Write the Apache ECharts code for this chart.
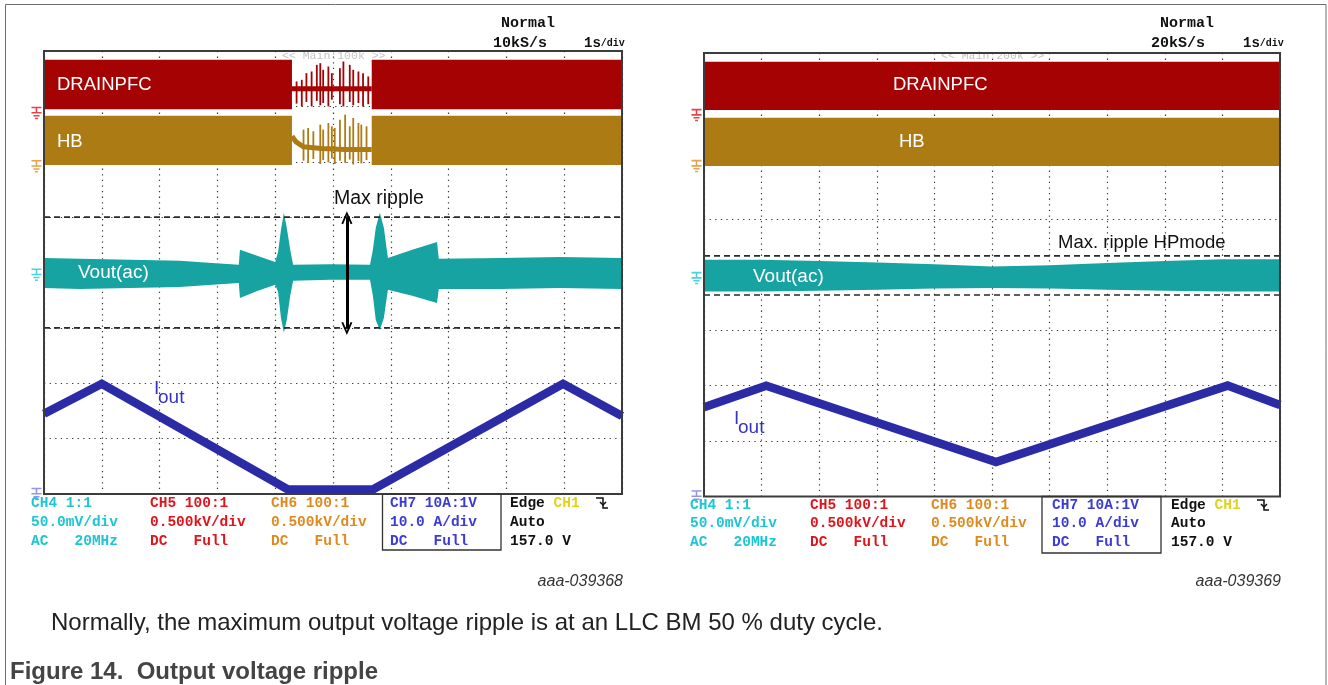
<!DOCTYPE html>
<html>
<head>
<meta charset="utf-8">
<script src="https://cdn.jsdelivr.net/npm/echarts@6/dist/echarts.min.js"></script>
<style>
  html, body { margin: 0; padding: 0; background: #fff; }
  #c { width: 1328px; height: 685px; }
</style>
</head>
<body>
<div id="c"></div>
<script>
// ---------------------------------------------------------------
// Scope captures: time axis 1 s/div (10 div), vertical axis in
// screen divisions (-4 .. +4, 0 = centre line).
// ---------------------------------------------------------------

// ---- Capture A (10 kS/s) : burst mode in the middle of the sweep ----
const drainActiveA = [[0, 4.29], [5.67, 10]];      // PFC switching intervals (s)
const drainEnvA = [2.95, 3.84];                     // switching envelope low / high (div)
const hbActiveA = [[0, 4.29], [5.67, 10]];
const hbEnvA = [1.94, 2.83];

const drainBurstT_A = [4.37, 4.46, 4.54, 4.63, 4.72, 4.78, 4.83, 4.92, 4.98, 5.12, 5.18, 5.29, 5.35, 5.44, 5.52, 5.61];
const drainBurstHi_A = [3.45, 3.48, 3.60, 3.63, 3.75, 3.78, 3.66, 3.72, 3.60, 3.69, 3.81, 3.75, 3.66, 3.63, 3.60, 3.54];
const drainBurstLo_A = [3.05, 3.00, 3.08, 3.00, 3.10, 3.02, 3.06, 3.00, 3.12, 3.04, 3.00, 3.08, 3.02, 3.06, 3.00, 3.04];
const drainIdleT_A = [4.29, 5.67];
const drainIdleV_A = [3.32, 3.32];

const hbBurstT_A = [4.49, 4.57, 4.66, 4.78, 4.83, 4.92, 4.98, 5.03, 5.12, 5.21, 5.29, 5.35, 5.44, 5.49, 5.58];
const hbBurstHi_A = [2.58, 2.61, 2.55, 2.67, 2.58, 2.70, 2.64, 2.61, 2.76, 2.85, 2.64, 2.79, 2.70, 2.67, 2.64];
const hbBurstLo_A = [2.02, 1.98, 2.05, 1.96, 2.03, 1.99, 2.06, 1.96, 2.02, 1.98, 2.04, 1.95, 2.01, 1.97, 2.03];
const hbIdleT_A = [4.29, 4.36, 4.49, 4.80, 5.20, 5.67];
const hbIdleV_A = [2.46, 2.36, 2.27, 2.24, 2.22, 2.22];

const voutT_A  = [0, 0.62, 1.49, 2.35, 2.91, 3.37, 3.39, 3.70, 4.00, 4.05, 4.10, 4.15, 4.20, 4.26, 4.31, 4.95, 5.64, 5.69, 5.74, 5.81, 5.88, 5.95, 6.37, 6.80, 6.83, 7.89, 8.93, 10];
const voutHi_A = [0.26, 0.25, 0.23, 0.21, 0.17, 0.14, 0.41, 0.30, 0.19, 0.37, 0.77, 1.08, 0.81, 0.41, 0.14, 0.15, 0.14, 0.41, 0.81, 1.08, 0.81, 0.26, 0.41, 0.55, 0.25, 0.26, 0.28, 0.26];
const voutLo_A = [-0.28, -0.30, -0.28, -0.26, -0.22, -0.19, -0.46, -0.33, -0.22, -0.35, -0.82, -1.09, -0.86, -0.42, -0.15, -0.13, -0.13, -0.42, -0.86, -1.04, -0.82, -0.31, -0.42, -0.55, -0.30, -0.30, -0.28, -0.30];

const ioutT_A = [0, 1.00, 4.22, 5.69, 8.98, 10];
const ioutA   = [-2.55, -2.01, -3.92, -3.92, -2.01, -2.59];

const rippleCursorsA = [1.0, -1.0];
const rippleArrowA = [5.24, 0.99, -1.01];            // time, top, bottom

// ---- Capture B (20 kS/s) : continuous HP mode ----
const drainActiveB = [[0, 10]];
const drainEnvB = [2.97, 3.84];
const hbActiveB = [[0, 10]];
const hbEnvB = [1.96, 2.83];

const voutT_B  = [0, 1, 2, 3, 4, 5, 6, 7, 8, 9, 10];
const voutHi_B = [0.27, 0.27, 0.25, 0.22, 0.19, 0.15, 0.17, 0.21, 0.25, 0.28, 0.28];
const voutLo_B = [-0.30, -0.30, -0.29, -0.27, -0.25, -0.24, -0.25, -0.27, -0.29, -0.30, -0.30];

const ioutT_B = [0, 1.08, 5.07, 9.09, 10];
const ioutB   = [-2.39, -2.00, -3.38, -2.00, -2.35];

const rippleCursorsB = [0.34, -0.365];

// Channel ground reference levels (div): CH5, CH6, CH4, CH7
const groundA = [2.88, 1.92, -0.04, -4.0];
const groundB = [2.88, 1.96, -0.06, -4.0];

// Channel setup readout
const chHeads = ['CH4 1:1', 'CH5 100:1', 'CH6 100:1', 'CH7 10A:1V'];
const chScales = ['50.0mV/div', '0.500kV/div', '0.500kV/div', '10.0 A/div'];
const chCoupling = ['AC   20MHz', 'DC   Full', 'DC   Full', 'DC   Full'];
const trigLines = ['Auto', '157.0 V'];

// ---------------------------------------------------------------
const C_DRAIN = '#a50203', C_HB = '#ad7b13', C_VOUT = '#17a3a1', C_IOUT = '#2b2ba6';
const C_CH = ['#1cc6d4', '#e0141c', '#df8a1f', '#3b3bd6'];
const MONO = '"Liberation Mono", "DejaVu Sans Mono", monospace';
const SANS = '"Liberation Sans", Arial, sans-serif';

const G = [
  { left: 44, top: 51, width: 578, height: 443 },
  { left: 704, top: 53, width: 576, height: 443.5 }
];

function axisX(gi) {
  return { gridIndex: gi, type: 'value', min: 0, max: 10, interval: 1,
    axisLine: { show: false }, axisTick: { show: false }, axisLabel: { show: false },
    splitLine: { show: true, lineStyle: { color: '#3a3a3a', width: 1.2, type: [1.3, 4.3] } } };
}
function axisY(gi) {
  return { gridIndex: gi, type: 'value', min: -4, max: 4, interval: 1,
    axisLine: { show: false }, axisTick: { show: false }, axisLabel: { show: false },
    splitLine: { show: true, lineStyle: { color: '#3a3a3a', width: 1.2, type: [1.3, 4.3] } } };
}

// filled switching envelope over active intervals
function activeBands(pairs, env, color, gi) {
  return {
    type: 'custom', xAxisIndex: gi, yAxisIndex: gi, clip: true, z: 3,
    data: pairs.map(p => [p[0], p[1], env[0], env[1]]),
    renderItem: (params, api) => {
      const a = api.coord([api.value(0), api.value(3)]);
      const b = api.coord([api.value(1), api.value(2)]);
      return { type: 'rect', shape: { x: a[0], y: a[1], width: b[0] - a[0], height: b[1] - a[1] },
        style: { fill: color } };
    }
  };
}

// envelope polygon (upper / lower trace limits)
function envelope(ts, hi, lo, color, gi) {
  return {
    type: 'custom', xAxisIndex: gi, yAxisIndex: gi, clip: true, z: 3,
    data: ts.map((t, i) => [t, hi[i], lo[i]]),
    renderItem: (params, api) => {
      if (params.dataIndex !== 0) return null;
      const pts = [];
      for (let i = 0; i < ts.length; i++) pts.push(api.coord([ts[i], hi[i]]));
      for (let i = ts.length - 1; i >= 0; i--) pts.push(api.coord([ts[i], lo[i]]));
      return { type: 'polygon', shape: { points: pts }, style: { fill: color } };
    }
  };
}

// single switching events during burst pauses
function spikes(ts, hi, lo, color, gi) {
  return {
    type: 'custom', xAxisIndex: gi, yAxisIndex: gi, clip: true, z: 3,
    data: ts.map((t, i) => [t, hi[i], lo[i]]),
    renderItem: (params, api) => {
      const a = api.coord([api.value(0), api.value(1)]);
      const b = api.coord([api.value(0), api.value(2)]);
      return { type: 'line', shape: { x1: a[0], y1: a[1], x2: b[0], y2: b[1] },
        style: { stroke: color, lineWidth: 1.8 } };
    }
  };
}

function trace(ts, vs, color, width, gi, z) {
  return { type: 'line', xAxisIndex: gi, yAxisIndex: gi, showSymbol: false, symbol: 'none',
    z: z || 3, data: ts.map((t, i) => [t, vs[i]]),
    lineStyle: { color: color, width: width, join: 'miter' } };
}

function cursors(levels, gi) {
  return levels.map(v => ({
    type: 'line', xAxisIndex: gi, yAxisIndex: gi, symbol: 'none', z: 4,
    data: [[0, v], [10, v]],
    lineStyle: { color: '#2a2a2a', width: 1.6, type: [6, 4] }
  }));
}

const GND_PATH = 'path://M0,0h10v1.6h-10z M4.2,1.6h1.6v3.6h-1.6z M0,5.2h10v1.6h-10z M2,8.2h6v1.5h-6z M3.6,11h2.8v1.5h-2.8z';
function grounds(levels, gi) {
  const cols = [C_CH[1], C_CH[2], C_CH[0], '#7a7ae0'];
  return {
    type: 'scatter', xAxisIndex: gi, yAxisIndex: gi, clip: false, z: 6, silent: true,
    symbol: GND_PATH, symbolSize: [10, 12.5],
    data: levels.map((v, i) => ({ value: [-0.13, v], itemStyle: { color: cols[i] } }))
  };
}

const series = [];
// capture A
series.push(activeBands(drainActiveA, drainEnvA, C_DRAIN, 0));
series.push(activeBands(hbActiveA, hbEnvA, C_HB, 0));
series.push(trace(drainIdleT_A, drainIdleV_A, C_DRAIN, 5, 0));
series.push(spikes(drainBurstT_A, drainBurstHi_A, drainBurstLo_A, C_DRAIN, 0));
series.push(trace(hbIdleT_A, hbIdleV_A, C_HB, 5, 0));
series.push(spikes(hbBurstT_A, hbBurstHi_A, hbBurstLo_A, C_HB, 0));
series.push(envelope(voutT_A, voutHi_A, voutLo_A, C_VOUT, 0));
series.push(trace(ioutT_A, ioutA, C_IOUT, 8.5, 0));
series.push(...cursors(rippleCursorsA, 0));
series.push({
  type: 'line', xAxisIndex: 0, yAxisIndex: 0, data: [], z: 5,
  markLine: {
    silent: true, animation: false,
    symbol: ['path://M5,0 L10,12 L8.4,12.6 L5,4 L1.6,12.6 L0,12 Z', 'path://M5,0 L10,12 L8.4,12.6 L5,4 L1.6,12.6 L0,12 Z'],
    symbolSize: [11, 13],
    label: { show: false },
    lineStyle: { color: '#000', width: 3, type: 'solid' },
    data: [[{ coord: [rippleArrowA[0], rippleArrowA[1]] }, { coord: [rippleArrowA[0], rippleArrowA[2]] }]]
  }
});
series.push(grounds(groundA, 0));
// capture B
series.push(activeBands(drainActiveB, drainEnvB, C_DRAIN, 1));
series.push(activeBands(hbActiveB, hbEnvB, C_HB, 1));
series.push(envelope(voutT_B, voutHi_B, voutLo_B, C_VOUT, 1));
series.push(trace(ioutT_B, ioutB, C_IOUT, 8.5, 1));
series.push(...cursors(rippleCursorsB, 1));
series.push(grounds(groundB, 1));

// ---------------------------------------------------------------
// Text, frames and readouts
function txt(x, y, s, font, fill, extra) {
  return Object.assign({ type: 'text', x: x, y: y, z: 20,
    style: Object.assign({ text: s, font: font, fill: fill, textVerticalAlign: 'middle' }, extra || {}) });
}
const graphics = [];
// outer figure border
graphics.push({ type: 'rect', z: 1, shape: { x: 5.5, y: 4.5, width: 1320.5, height: 700 },
  style: { fill: 'none', stroke: '#6e6e6e', lineWidth: 1 } });

const panels = [
  { g: G[0], rate: '10kS/s', main: '<< Main:100k >>', mainX: 282, normX: 501, rateX: 493, divX: 584,
    drainX: 57, hbX: 57, voutX: 78, voutY: 273, iX: 154, iY: 389, cols: [31, 150, 271, 390, 510], rows: [503, 522, 541],
    box: [382.5, 494, 118.5, 56], trig: 596, fig: 'aaa-039368', figR: 623 },
  { g: G[1], rate: '20kS/s', main: '<< Main:200k >>', mainX: 941, normX: 1160, rateX: 1151, divX: 1243,
    drainX: 893, hbX: 899, voutX: 753, voutY: 277, iX: 734, iY: 419, cols: [690, 810, 931, 1052, 1171], rows: [505, 523, 542],
    box: [1042, 496.5, 119, 56.5], trig: 1257, fig: 'aaa-039369', figR: 1281 }
];

panels.forEach((p, k) => {
  const g = p.g;
  // graticule frame
  graphics.push({ type: 'rect', z: 15, shape: { x: g.left, y: g.top, width: g.width, height: g.height },
    style: { fill: 'none', stroke: '#3c3c3c', lineWidth: 2 } });
  graphics.push(txt(p.normX, 23, 'Normal', 'bold 15px ' + MONO, '#111'));
  graphics.push(txt(p.rateX, 43, p.rate, 'bold 15px ' + MONO, '#111'));
  graphics.push(txt(p.divX, 43, '{a|1s}{b|/div}', '', '#111', {
    rich: { a: { font: 'bold 14px ' + MONO, fill: '#111' }, b: { font: 'bold 10px ' + MONO, fill: '#111' } } }));
  const mainTxt = txt(p.mainX, 56, p.main, '11.5px ' + MONO, '#c4c4c4');
  mainTxt.z = 1;
  graphics.push(mainTxt);
  graphics.push(txt(p.drainX, 85, 'DRAINPFC', '18.5px ' + SANS, '#fff'));
  graphics.push(txt(p.hbX, 142, 'HB', '18.5px ' + SANS, '#fff'));
  graphics.push(txt(p.voutX, p.voutY, 'Vout(ac)', '19px ' + SANS, '#fff'));
  graphics.push(txt(p.iX, p.iY, 'I', '19px ' + SANS, '#3434c4'));
  graphics.push(txt(p.iX + 4, p.iY + 9, 'out', '19px ' + SANS, '#3434c4'));

  // channel readout
  for (let c = 0; c < 4; c++) {
    graphics.push(txt(p.cols[c], p.rows[0], chHeads[c], 'bold 14.5px ' + MONO, C_CH[c]));
    graphics.push(txt(p.cols[c], p.rows[1], chScales[c], 'bold 14.5px ' + MONO, C_CH[c]));
    graphics.push(txt(p.cols[c], p.rows[2], chCoupling[c], 'bold 14.5px ' + MONO, C_CH[c]));
  }
  graphics.push(txt(p.cols[4], p.rows[0], '{e|Edge }{y|CH1}', '', '#111', {
    rich: { e: { font: 'bold 14.5px ' + MONO, fill: '#111' }, y: { font: 'bold 14.5px ' + MONO, fill: '#e2d21a' } } }));
  graphics.push(txt(p.cols[4], p.rows[1], trigLines[0], 'bold 14.5px ' + MONO, '#111'));
  graphics.push(txt(p.cols[4], p.rows[2], trigLines[1], 'bold 14.5px ' + MONO, '#111'));
  graphics.push({ type: 'rect', z: 15, shape: { x: p.box[0], y: p.box[1], width: p.box[2], height: p.box[3] },
    style: { fill: 'none', stroke: '#333', lineWidth: 1.3 } });
  // falling-edge trigger glyph
  const ty = p.rows[0];
  graphics.push({ type: 'polyline', z: 20, shape: { points: [[p.trig, ty - 5], [p.trig + 7, ty - 5], [p.trig + 7, ty + 5], [p.trig + 12, ty + 5]] },
    style: { fill: 'none', stroke: '#111', lineWidth: 1.5 } });
  graphics.push({ type: 'polyline', z: 20, shape: { points: [[p.trig + 4, ty - 1], [p.trig + 7, ty + 2], [p.trig + 10, ty - 1]] },
    style: { fill: 'none', stroke: '#111', lineWidth: 1.5 } });

  graphics.push(txt(p.figR, 582, p.fig, 'italic 16px ' + SANS, '#333', { textAlign: 'right' }));
});

graphics.push(txt(334, 199, 'Max ripple', '19.5px ' + SANS, '#111'));
graphics.push(txt(1058, 243, 'Max. ripple HPmode', '18.5px ' + SANS, '#111'));
graphics.push(txt(51, 623, 'Normally, the maximum output voltage ripple is at an LLC BM 50 % duty cycle.', '24px ' + SANS, '#222'));
graphics.push(txt(10, 672, 'Figure 14.  Output voltage ripple', 'bold 24px ' + SANS, '#444'));

const chart = echarts.init(document.getElementById('c'), null, { renderer: 'canvas' });
chart.setOption({
  animation: false,
  backgroundColor: '#fff',
  grid: G.map(g => Object.assign({ show: false }, g)),
  xAxis: [axisX(0), axisX(1)],
  yAxis: [axisY(0), axisY(1)],
  series: series,
  graphic: { elements: graphics }
});
</script>
</body>
</html>
